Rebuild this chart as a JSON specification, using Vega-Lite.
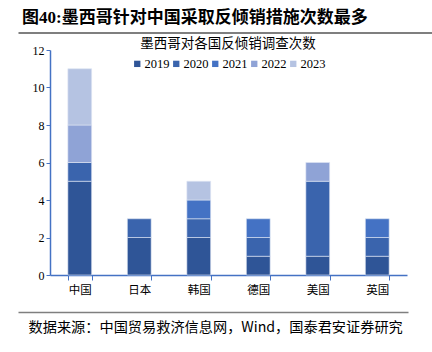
{
  "$schema": "https://vega.github.io/schema/vega-lite/v6.json",
  "width": 414,
  "height": 225,
  "autosize": {"type": "none"},
  "padding": {"left": 18, "top": 50, "right": 0, "bottom": 77},
  "background": "white",
  "title": {
    "text": "图40:墨西哥针对中国采取反倾销措施次数最多",
    "anchor": "start",
    "frame": "group",
    "dx": 4,
    "offset": 6,
    "fontSize": 17,
    "fontWeight": "bold",
    "font": "Liberation Serif, Noto Sans CJK SC",
    "color": "#000000"
  },
  "config": {
    "view": {"stroke": null},
    "axis": {"domainColor": "#4472C4", "tickColor": "#4472C4", "grid": false, "labelColor": "#000000"}
  },
  "data": {
    "values": [
      {"country": "中国", "year": "2019", "count": 5},
      {"country": "中国", "year": "2020", "count": 1},
      {"country": "中国", "year": "2022", "count": 2},
      {"country": "中国", "year": "2023", "count": 3},
      {"country": "日本", "year": "2019", "count": 2},
      {"country": "日本", "year": "2020", "count": 1},
      {"country": "韩国", "year": "2019", "count": 2},
      {"country": "韩国", "year": "2020", "count": 1},
      {"country": "韩国", "year": "2021", "count": 1},
      {"country": "韩国", "year": "2023", "count": 1},
      {"country": "德国", "year": "2019", "count": 1},
      {"country": "德国", "year": "2020", "count": 1},
      {"country": "德国", "year": "2021", "count": 1},
      {"country": "美国", "year": "2019", "count": 1},
      {"country": "美国", "year": "2020", "count": 4},
      {"country": "美国", "year": "2022", "count": 1},
      {"country": "英国", "year": "2019", "count": 1},
      {"country": "英国", "year": "2020", "count": 1},
      {"country": "英国", "year": "2021", "count": 1}
    ]
  },
  "layer": [
    {
      "mark": {"type": "bar", "stroke": "#dfe6f4", "strokeWidth": 0.6},
      "encoding": {
        "x": {
          "field": "country",
          "type": "nominal",
          "sort": ["中国", "日本", "韩国", "德国", "美国", "英国"],
          "scale": {"range": [32, 389], "paddingInner": 0.6, "paddingOuter": 0.3},
          "axis": {
            "orient": "bottom",
            "title": null,
            "labelAngle": 0,
            "tickBand": "extent",
            "tickSize": 5,
            "labelPadding": 4,
            "labelFont": "Noto Sans CJK SC",
            "labelFontSize": 11.5,
            "domainWidth": 1.5
          }
        },
        "y": {
          "field": "count",
          "type": "quantitative",
          "stack": "zero",
          "scale": {"domain": [0, 12]},
          "axis": {
            "values": [0, 2, 4, 6, 8, 10, 12],
            "offset": -32,
            "title": null,
            "tickSize": 4,
            "labelFont": "Liberation Serif",
            "labelFontSize": 12,
            "labelPadding": 2,
            "domainWidth": 1.5
          }
        },
        "color": {
          "field": "year",
          "type": "nominal",
          "scale": {
            "domain": ["2019", "2020", "2021", "2022", "2023"],
            "range": ["#2F5597", "#3A64AD", "#4472C4", "#8FA3D6", "#B5C3E2"]
          },
          "legend": {
            "orient": "none",
            "legendX": 113,
            "legendY": -13,
            "direction": "horizontal",
            "columns": 5,
            "title": "墨西哥对各国反倾销调查次数",
            "titleOrient": "top",
            "titleAnchor": "middle",
            "titleFont": "Noto Sans CJK SC",
            "titleFontSize": 13.5,
            "titleFontWeight": "normal",
            "titleColor": "#000000",
            "titlePadding": 7,
            "symbolType": "square",
            "symbolSize": 40,
            "symbolStrokeWidth": 0,
            "labelFont": "Liberation Serif",
            "labelFontSize": 12.5,
            "labelColor": "#000000",
            "labelOffset": 1,
            "columnPadding": 0,
            "padding": 0
          }
        },
        "order": {"field": "year", "type": "ordinal"}
      }
    },
    {
      "mark": {"type": "point", "opacity": 0},
      "encoding": {
        "x": {
          "field": "country",
          "type": "nominal",
          "sort": ["中国", "日本", "韩国", "德国", "美国", "英国"],
          "scale": {"range": [0, 414]},
          "axis": {
            "orient": "top",
            "offset": 17.5,
            "domainColor": "#7f7f7f",
            "domainWidth": 2,
            "labels": false,
            "ticks": false,
            "title": null
          }
        }
      }
    },
    {
      "mark": {"type": "point", "opacity": 0},
      "encoding": {
        "x": {
          "field": "country",
          "type": "nominal",
          "sort": ["中国", "日本", "韩国", "德国", "美国", "英国"],
          "scale": {"range": [0, 390]},
          "axis": {
            "orient": "bottom",
            "offset": 37,
            "domainColor": "#7f7f7f",
            "domainWidth": 1.5,
            "labels": false,
            "ticks": false,
            "title": "数据来源：中国贸易救济信息网，Wind，国泰君安证券研究",
            "titleFont": "Noto Sans CJK SC",
            "titleFontSize": 14.2,
            "titleFontWeight": "normal",
            "titleColor": "#000000",
            "titleX": 10,
            "titleY": 8,
            "titleAlign": "left",
            "titleBaseline": "top",
            "titleAnchor": "start"
          }
        }
      }
    }
  ],
  "resolve": {"scale": {"x": "independent"}, "axis": {"x": "independent"}}
}
